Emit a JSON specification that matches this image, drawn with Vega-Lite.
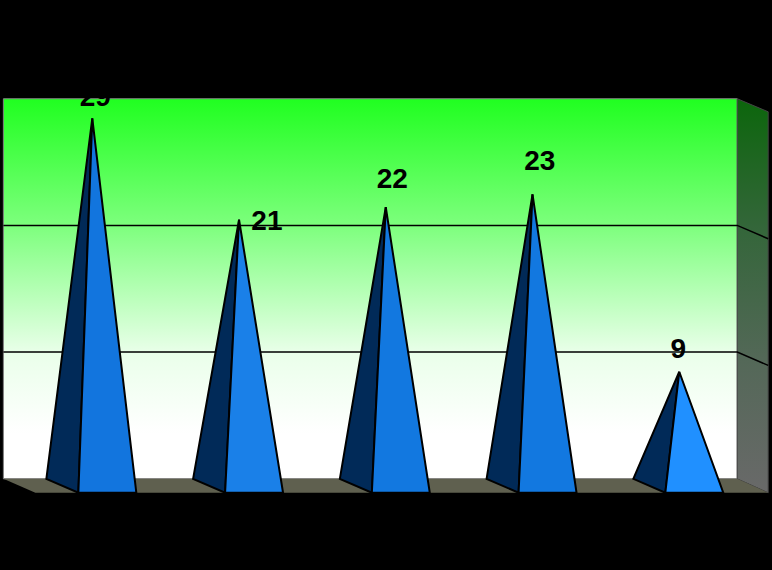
{
"$schema":"https://vega.github.io/schema/vega-lite/v6.json",
"width":772,"height":570,"autosize":{"type":"fit","contains":"padding"},"padding":0,
"background":"#000000",
"config":{"view":{"stroke":null}},
"datasets":{
"back":[{"c":0.394,"top":30.55,"base":0.55},{"c":5.395,"top":30.55,"base":0.55}],
"side":[{"c":5.395,"top":30.55,"base":0.55},{"c":5.606,"top":29.52,"base":-0.55}],
"floor":[{"c":0.394,"top":0.55,"base":0.55},{"c":0.612,"top":0.55,"base":-0.55},{"c":5.395,"top":0.55,"base":-0.55},{"c":5.606,"top":-0.55,"base":-0.55}],
"grid":[{"g":"10","c":0.394,"v":10.55},{"g":"10","c":5.395,"v":10.55},{"g":"10","c":5.606,"v":9.5},{"g":"20","c":0.394,"v":20.55},{"g":"20","c":5.395,"v":20.55},{"g":"20","c":5.606,"v":19.5}],
"faces":[
{"part":"1 back","c":0.687,"top":0.55,"base":0.55},{"part":"1 back","c":0.905,"top":20.34,"base":-0.55},{"part":"1 back","c":1,"top":29,"base":29},
{"part":"1 front","c":0.905,"top":-0.55,"base":-0.55},{"part":"1 front","c":1,"top":29,"base":-0.55},{"part":"1 front","c":1.3,"top":-0.55,"base":-0.55},
{"part":"2 back","c":1.687,"top":0.55,"base":0.55},{"part":"2 back","c":1.905,"top":14.78,"base":-0.55},{"part":"2 back","c":2,"top":21,"base":21},
{"part":"2 front","c":1.905,"top":-0.55,"base":-0.55},{"part":"2 front","c":2,"top":21,"base":-0.55},{"part":"2 front","c":2.3,"top":-0.55,"base":-0.55},
{"part":"3 back","c":2.687,"top":0.55,"base":0.55},{"part":"3 back","c":2.905,"top":15.47,"base":-0.55},{"part":"3 back","c":3,"top":22,"base":22},
{"part":"3 front","c":2.905,"top":-0.55,"base":-0.55},{"part":"3 front","c":3,"top":22,"base":-0.55},{"part":"3 front","c":3.3,"top":-0.55,"base":-0.55},
{"part":"4 back","c":3.687,"top":0.55,"base":0.55},{"part":"4 back","c":3.905,"top":16.17,"base":-0.55},{"part":"4 back","c":4,"top":23,"base":23},
{"part":"4 front","c":3.905,"top":-0.55,"base":-0.55},{"part":"4 front","c":4,"top":23,"base":-0.55},{"part":"4 front","c":4.3,"top":-0.55,"base":-0.55},
{"part":"5 back","c":4.687,"top":0.55,"base":0.55},{"part":"5 back","c":4.905,"top":6.43,"base":-0.55},{"part":"5 back","c":5,"top":9,"base":9},
{"part":"5 front","c":4.905,"top":-0.55,"base":-0.55},{"part":"5 front","c":5,"top":9,"base":-0.55},{"part":"5 front","c":5.3,"top":-0.55,"base":-0.55}
],
"labels":[{"c":1.02,"v":30.6,"value":29},{"c":2.19,"v":20.84,"value":21},{"c":3.044,"v":24.15,"value":22},{"c":4.05,"v":25.57,"value":23},{"c":4.993,"v":10.73,"value":9}]
},
"encoding":{
"x":{"field":"c","type":"quantitative","scale":{"domain":[0.371,5.632],"nice":false,"zero":false},"axis":null},
"y":{"field":"top","type":"quantitative","stack":null,"scale":{"domain":[-6.647,38.343],"nice":false,"zero":false},"axis":null}
},
"layer":[
{"data":{"name":"back"},"mark":{"type":"area","stroke":"#808080","strokeWidth":1,"color":{"gradient":"linear","x1":0,"y1":0,"x2":0,"y2":1,"stops":[{"offset":0,"color":"#20ff20"},{"offset":0.33,"color":"#7cff7c"},{"offset":0.67,"color":"#eaffea"},{"offset":0.88,"color":"#ffffff"},{"offset":1,"color":"#ffffff"}]}},"encoding":{"y2":{"field":"base"}}},
{"data":{"name":"side"},"mark":{"type":"area","stroke":"#444444","strokeWidth":1,"color":{"gradient":"linear","x1":0,"y1":0,"x2":0,"y2":1,"stops":[{"offset":0,"color":"#0c660c"},{"offset":0.33,"color":"#34663a"},{"offset":0.67,"color":"#546858"},{"offset":1,"color":"#696969"}]}},"encoding":{"y2":{"field":"base"}}},
{"data":{"name":"floor"},"mark":{"type":"area","color":"#5f604f"},"encoding":{"y2":{"field":"base"}}},
{"data":{"name":"grid"},"mark":{"type":"line","color":"#000000","strokeWidth":1.5},"encoding":{"y":{"field":"v","type":"quantitative","stack":null},"detail":{"field":"g"},"order":{"field":"c"}}},
{"data":{"name":"faces"},"mark":{"type":"area","stroke":"#000000","strokeWidth":2,"strokeJoin":"miter"},"encoding":{"y2":{"field":"base"},"color":{"field":"part","type":"nominal","legend":null,"scale":{"domain":["1 back","1 front","2 back","2 front","3 back","3 front","4 back","4 front","5 back","5 front"],"range":["#012a58","#1275de","#012a58","#1a80e8","#012a58","#1278e0","#012a58","#1278e0","#012a58","#2090ff"]}}}},
{"data":{"name":"labels"},"mark":{"type":"text","font":"Liberation Sans","fontWeight":"bold","fontSize":28,"color":"#000000","baseline":"middle","align":"center"},"encoding":{"y":{"field":"v","type":"quantitative","stack":null},"text":{"field":"value","type":"quantitative"}}}
]
}
